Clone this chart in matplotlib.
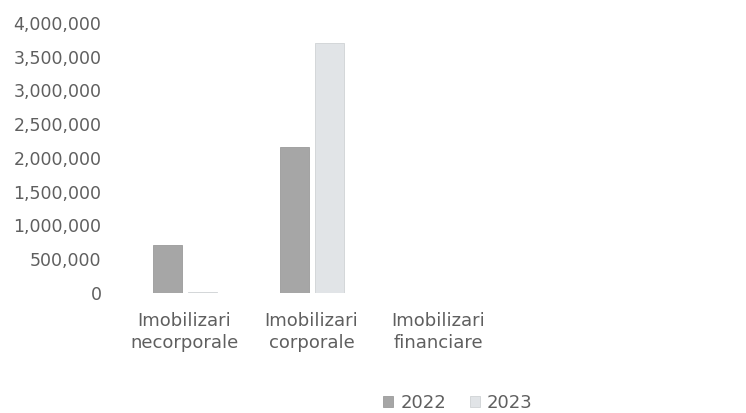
import numpy as np
import matplotlib
matplotlib.use('Agg')
from matplotlib import pyplot as plt

# date
categorii = ['Imobilizari\nnecorporale', 'Imobilizari\ncorporale', 'Imobilizari\nfinanciare']
val_2022 = [710000, 2160000, 0]
val_2023 = [15000, 3710000, 0]
yticks = [0, 500000, 1000000, 1500000, 2000000, 2500000, 3000000, 3500000, 4000000]

txt = '#5f5f5f'

fig = plt.figure(figsize=(7.46, 4.13), dpi=100)
ax = fig.add_axes([0.162, 0.2906, 0.511, 0.6538])

x = np.arange(len(categorii))
w = 0.228
ax.bar(x - 0.135, val_2022, w, color='#a6a6a6', edgecolor='#9a9a9a', linewidth=0.6, label='2022')
ax.bar(x + 0.145, val_2023, w, color='#e1e4e7', edgecolor='#cfd2d5', linewidth=0.6, label='2023')

ax.set_xlim(-0.5, 2.5)
ax.set_ylim(0, 4000000)
ax.set_yticks(yticks)
ax.set_yticklabels(['{:,}'.format(v) for v in yticks])
ax.set_xticks(x)
ax.set_xticklabels(categorii, linespacing=1.25)

ax.tick_params(axis='y', length=0, pad=14, labelsize=12.5, labelcolor=txt)
ax.tick_params(axis='x', length=0, pad=14, labelsize=13, labelcolor=txt)
for s in ax.spines.values():
    s.set_visible(False)

fig.legend(loc='center', bbox_to_anchor=(458 / 746, 0.024), ncol=2, frameon=False,
           handlelength=0.55, handleheight=0.55, handletextpad=0.4, columnspacing=1.3,
           fontsize=13, labelcolor=txt)

fig.savefig('out.png', dpi=100)
